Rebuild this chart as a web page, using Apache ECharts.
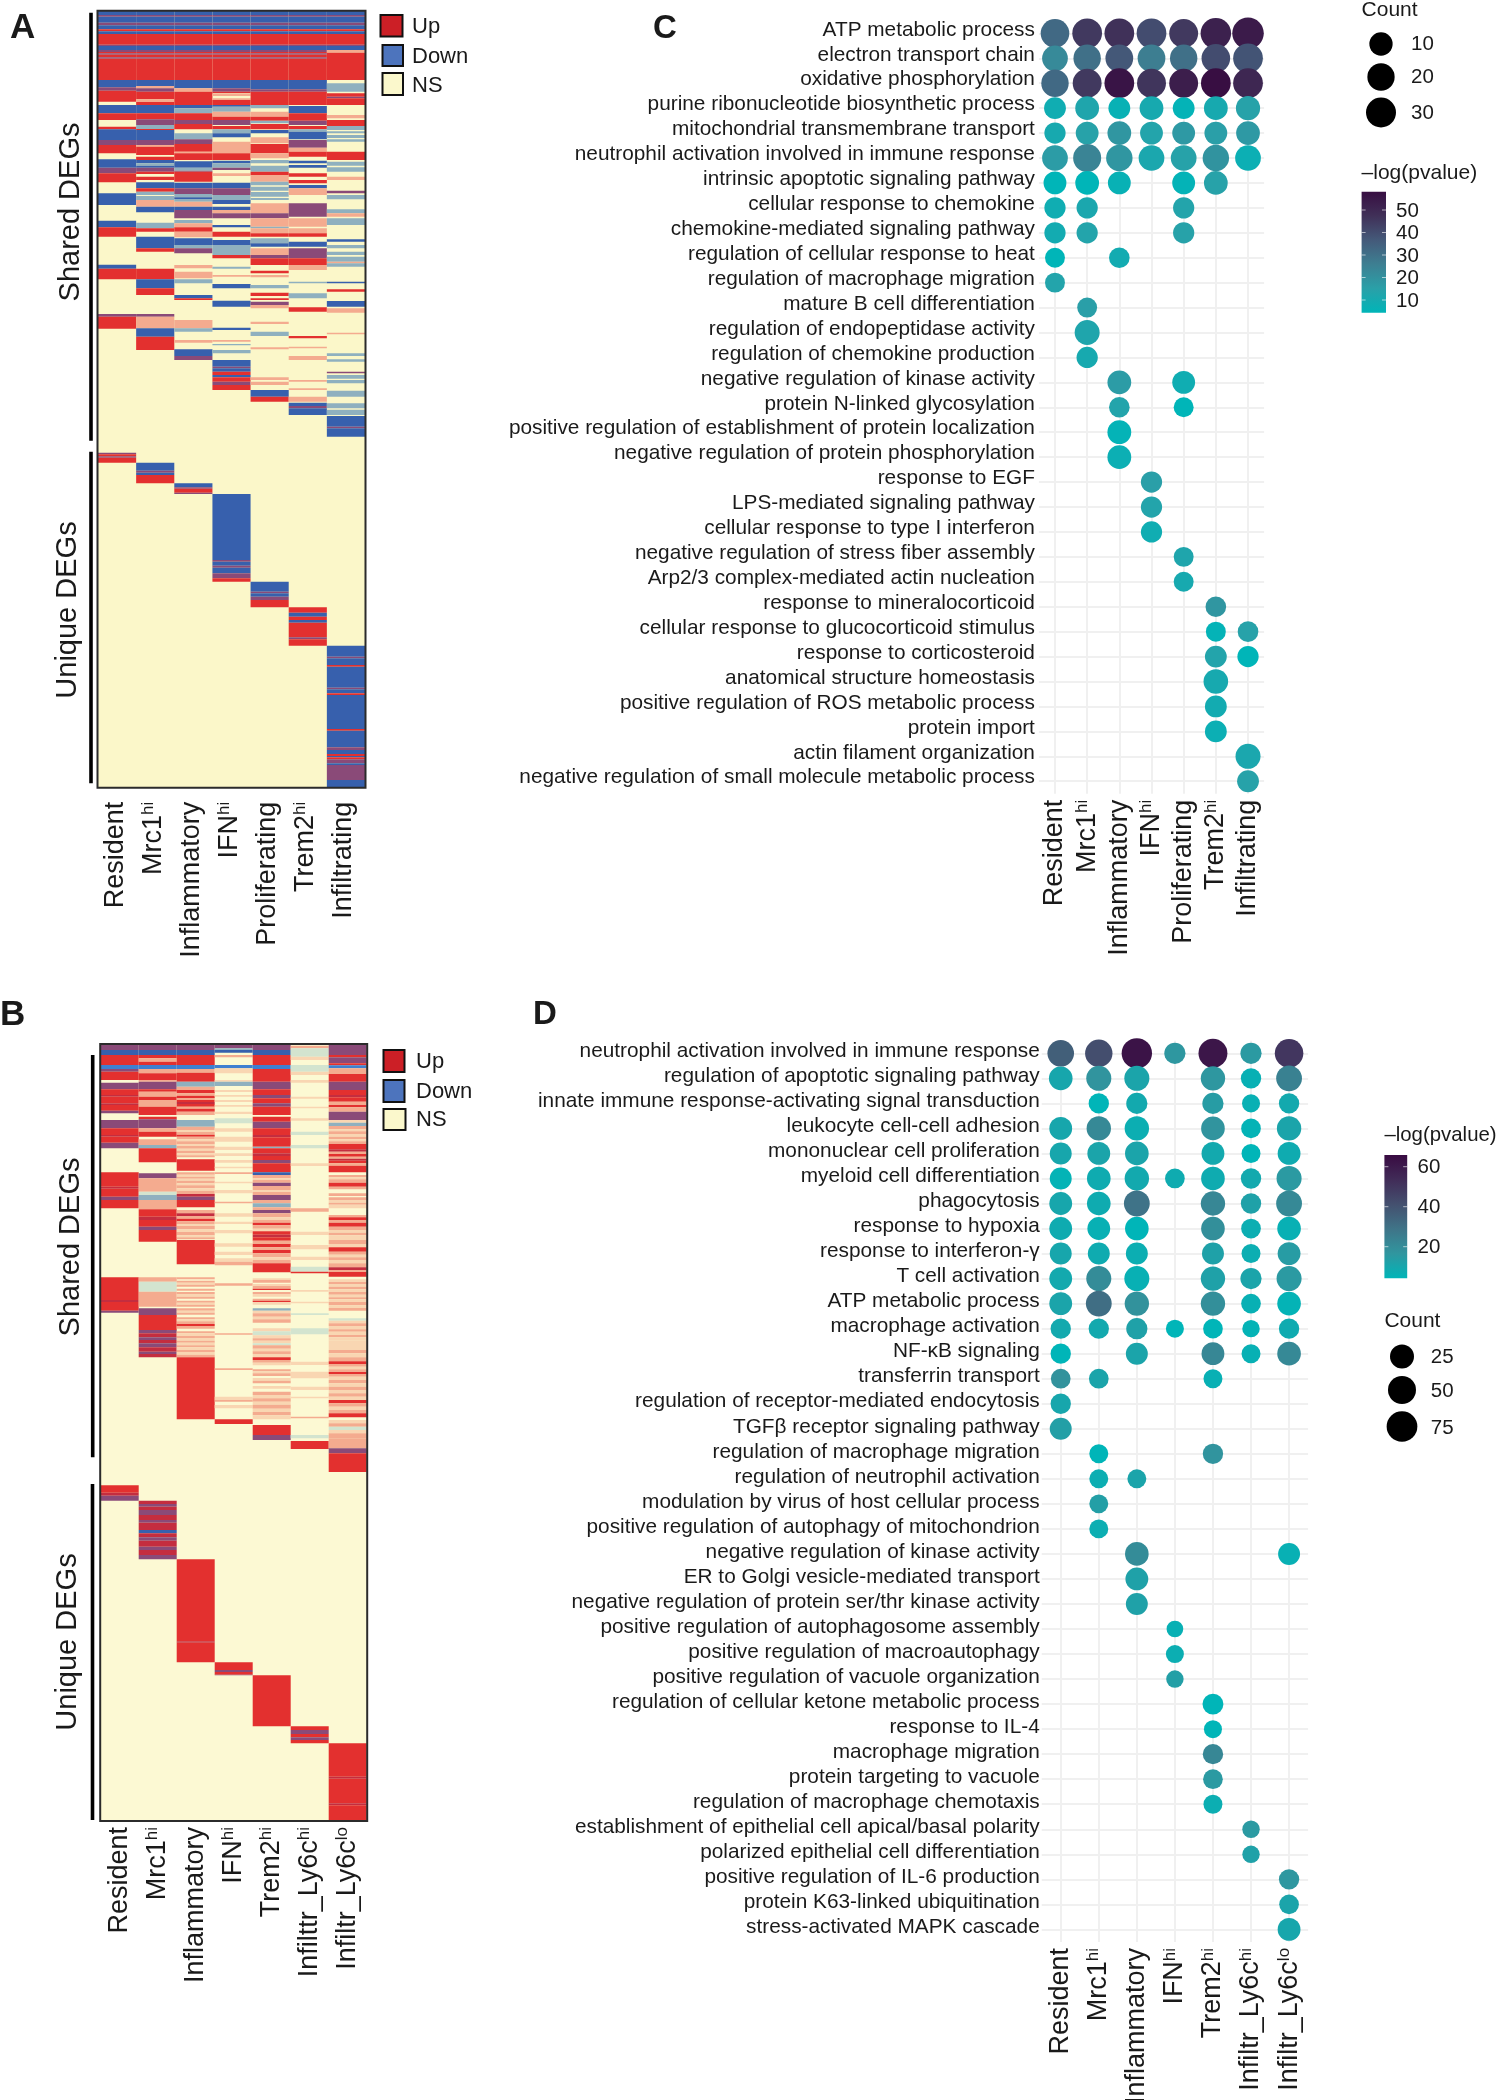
<!DOCTYPE html>
<html><head><meta charset="utf-8">
<style>html,body{margin:0;padding:0;background:#fff}#c{width:1496px;height:2100px}</style>
<script src="https://cdn.jsdelivr.net/npm/echarts@6/dist/echarts.min.js"></script>
</head><body><div id="c"></div>
<script>
const FONT = '"Liberation Sans", Arial, sans-serif';

/* ---------- shared x categories ---------- */
const clustersAC = ['Resident','Mrc1^hi','Inflammatory','IFN^hi','Proliferating','Trem2^hi','Infiltrating'];
const clustersB  = ['Resident','Mrc1^hi','Inflammatory','IFN^hi','Trem2^hi','Infilttr_Ly6c^hi','Infiltr_Ly6c^lo'];
const clustersD  = ['Resident','Mrc1^hi','Inflammatory','IFN^hi','Trem2^hi','Infiltr_Ly6c^hi','Infiltr_Ly6c^lo'];

/* ---------- heatmap states: U up, D down, N not significant, others = weaker or mixed stripes ---------- */
const stateColor = {U:'#e3302f',D:'#3760ad',u:'#f4ab8f',d:'#8fb0bf',m:'#8a4a78',r:'#c42d3f',p:'#f9d6b2',g:'#d3e4cf',B:'#3f7fd0'};

/* Gene rows per column as run lists: state + last row of the run */
const rowRangeA = [32, 2363];
const topA = 'D45 m50 D68 m76 D88 U94 D102 U134 m138 D150 m156 U160 m164 U172 m176 U240 ';
const heatA = [
 topA+'D262 m272 U305 N315 D340 U360 N380 U388 D420 m435 U460 N478 D503 m520 U547 N580 D615 N662 D682 U710 N794 D806 U838 N942 m950 U986 N1358 m1363 U1369 m1373 U1388',
 topA+'D258 u265 m275 U298 u306 U315 D340 U358 m375 d387 U390 D420 m435 u440 U465 N470 U480 D490 d497 D503 m515 U522 N530 U540 N547 D565 U575 d585 N588 d600 u620 D637 N668 d685 U695 N710 D745 U755 N806 U838 D865 U885 N942 m950 u985 D1010 U1050 N1388 D1412 m1418 D1425 U1450',
 topA+'D265 u275 U315 D325 d340 U360 m372 U388 N400 d418 m432 U455 u460 U480 N484 D503 d512 m515 U545 N548 D565 m582 d592 D597 d605 u620 D630 m655 N660 d670 u682 U695 u712 N715 D735 d745 m760 N795 u805 N815 u835 N838 d850 N885 D895 U900 N960 u985 d995 N1020 u1028 N1048 D1068 m1080 N1450 D1462 m1466 U1478 m1482',
 topA+'D265 m275 U280 N282 u288 N295 u300 U315 D320 d335 u350 U360 m375 N378 U388 d400 D412 N425 u460 U480 N482 D490 d503 m510 N520 u528 N548 D565 m585 d600 D612 N620 D630 u640 m655 N675 D682 N695 U710 N720 D735 d765 U775 N800 d806 N825 u830 N852 D865 N902 D920 N983 D990 N1020 u1025 N1032 d1036 N1050 d1060 N1080 D1100 m1105 D1115 U1125 D1132 U1145 m1155 U1170 N1482 D1680 m1685 D1697 m1703 D1720 m1735 U1745',
 topA+'D268 m275 U315 d325 N335 u350 U362 d370 N372 U388 N390 D400 N412 u430 N432 U460 u475 N480 d490 N497 d515 U525 u545 d556 N560 d572 N576 d590 N594 d600 N610 u640 m655 u680 d685 u700 U710 N715 d730 D740 N745 u765 m775 U795 N812 U820 N825 u832 N855 d865 N878 U888 N895 U900 N905 m915 u925 N965 u972 N995 d1008 N1042 u1048 N1132 u1140 N1145 u1155 N1170 D1190 U1205 N1745 D1775 m1780 D1790 m1800 U1822',
 topA+'D268 m275 U315 N318 D340 U362 m375 N378 U388 d395 D418 N420 m443 u455 U470 N482 D490 N495 D503 N520 U530 N540 U550 N555 D565 u585 N610 m650 N655 u680 N685 u700 U710 N725 D740 N745 m775 U795 u810 N845 d850 N880 d895 N922 U935 N1008 U1015 N1040 u1045 N1068 u1080 N1140 u1145 N1165 u1170 N1190 u1205 N1208 D1218 m1225 D1245 N1822 U1838 D1850 U1860 D1868 U1912 m1918 U1937',
 'D45 m50 D68 m76 D88 U94 D102 U134 m138 D150 u158 U240 N250 d275 N280 U290 m295 U315 N345 u355 N360 U378 d390 N394 d400 N405 d414 N418 d425 N455 U480 N485 d497 N502 d515 N530 u540 N572 m580 N585 d598 N628 d640 u650 N655 d675 N718 D725 N735 d745 N755 d765 N770 d785 u790 d800 N845 D850 N868 U875 N903 D920 N925 u938 N998 u1003 N1060 d1068 N1078 d1085 N1115 m1120 N1125 d1136 N1140 d1150 N1172 d1190 N1210 d1225 N1229 d1245 N1248 D1280 m1285 D1310 N1937 D1970 m1975 D1995 U2000 D2063 m2068 D2080 U2085 D2187 U2192 D2242 m2250 D2262 U2268 D2272 U2278 m2290 D2295 m2340 D2363'
];

const rowRangeB = [132, 2463];
const heatB = [
 'm150 D165 U195 B207 m215 U240 N248 m268 U285 r290 U310 r315 U332 m340 N360 m385 U405 r410 U428 m445 N517 U560 r566 U590 m600 U625 N832 U900 r906 U932 m938 N1456 U1478 r1487 m1502',
 'm150 D165 U175 u185 U195 B207 u220 U240 u245 m268 U275 u290 U300 u320 U345 N350 U358 m385 u395 U410 N418 u435 d445 U487 N520 m535 u575 g585 d600 u628 U650 r660 U680 m690 U725 N832 u845 g875 u920 N925 m945 U990 m1000 r1012 m1020 r1030 m1042 r1055 m1062 r1072 N1502 r1512 m1520 r1530 m1545 r1560 m1568 r1590 D1600 r1612 m1622 r1640 m1650 r1665 m1678',
 'm150 D165 U195 B207 u218 U245 d260 u270 U280 u287 U294 u300 U306 r312 U320 u326 U335 u345 N360 d380 u390 p396 u404 U410 u418 p424 u432 p438 u446 p452 u460 p466 u472 N478 U512 N517 u524 p530 u536 p542 u550 p556 u565 p572 u582 r590 m600 U622 N630 u640 r648 u656 U664 u672 p678 u688 p696 u706 p712 u718 N720 U793 N832 u838 N842 u848 p854 u860 N866 u872 N876 u882 p890 u896 N902 u908 p914 u920 N925 u932 p938 u944 N952 u958 p964 u972 U978 u986 N994 u1000 p1008 u1014 p1022 u1028 p1036 u1042 p1050 u1056 p1064 u1072 U1258 N1678 U1924 r1928 U1987',
 'm145 d150 D158 N165 u172 N195 B205 p220 N240 p245 d258 N270 p276 N285 p290 N300 p306 N315 p320 N335 p342 N355 g370 N385 p395 N410 p425 N440 p450 N460 p468 N480 p488 N500 p505 N517 u522 N545 p550 N570 p580 N605 u610 N640 p650 N665 p672 N690 p700 N730 p740 N755 p765 N775 p785 u796 N850 u857 N1000 u1004 N1105 u1110 N1190 p1200 u1205 N1215 p1225 N1258 U1272 N1987 U2010 m2016 U2024 m2026',
 'm150 D165 U195 B207 U245 m268 U285 m295 U310 m320 U345 N350 U365 m385 U405 r412 U440 d445 U460 r468 U480 m490 U517 D525 u535 p540 u548 m558 u570 p576 u585 m600 u610 d622 u630 m640 u652 p660 u668 U676 u686 p694 U704 r712 U722 u732 U742 u750 U760 u772 p780 u790 U817 N835 p840 u848 N852 p858 u866 U870 N876 u882 p890 N896 u902 U906 p914 N925 d932 p940 u950 p958 u968 N985 p994 g1006 p1015 u1022 p1030 g1036 u1046 p1054 u1062 p1072 U1080 u1088 p1096 N1108 u1114 p1120 u1128 N1134 p1142 u1150 N1158 p1166 N1175 u1185 p1195 u1205 p1214 u1226 p1236 u1246 p1258 N1275 U1305 m1320 N2026 U2179',
 'N137 u145 g170 p180 N195 g215 p225 N240 p248 N290 p296 N320 p325 N355 p362 N395 g405 N435 g445 N490 p498 N625 u635 N695 p705 N735 p748 N770 p780 N800 g815 U820 N870 p875 N905 p910 N940 g945 N985 g1003 N1085 p1095 N1115 p1135 N1160 p1170 N1190 p1195 N1250 u1255 N1305 g1315 N1323 U1347 N2179 U2190 m2202 U2212 m2220 U2230',
 'm165 U172 m190 U196 B205 u222 U245 m270 U285 r292 U305 u315 U322 u335 m360 p368 d378 u388 p394 u402 p410 u418 p424 u432 U448 r455 u462 U470 u476 r482 U490 u497 U517 N525 u532 p538 u548 U560 u568 N580 u588 N592 u600 p608 u614 p625 N645 u652 U660 u668 U680 u690 p698 u706 p720 u732 p742 U755 u764 p772 u780 p790 u802 r810 u816 U830 N838 p846 u852 p860 u868 p876 u884 p892 u898 p906 u916 p924 u932 N955 g962 p970 u978 p988 u995 p1005 u1012 p1022 p1050 u1060 p1072 u1084 U1092 u1100 p1108 u1116 U1122 u1130 p1140 u1150 p1160 u1170 p1180 u1190 p1200 U1210 u1220 p1230 u1240 U1252 N1260 p1270 u1280 g1290 p1300 u1315 u1345 m1360 U1416 N2230 U2330 r2336 U2410 r2416 U2463'
];

/* ---------- panel C ---------- */
const termsC = ['ATP metabolic process','electron transport chain','oxidative phosphorylation','purine ribonucleotide biosynthetic process','mitochondrial transmembrane transport','neutrophil activation involved in immune response','intrinsic apoptotic signaling pathway','cellular response to chemokine','chemokine-mediated signaling pathway','regulation of cellular response to heat','regulation of macrophage migration','mature B cell differentiation','regulation of endopeptidase activity','regulation of chemokine production','negative regulation of kinase activity','protein N-linked glycosylation','positive regulation of establishment of protein localization','negative regulation of protein phosphorylation','response to EGF','LPS-mediated signaling pathway','cellular response to type I interferon','negative regulation of stress fiber assembly','Arp2/3 complex-mediated actin nucleation','response to mineralocorticoid','cellular response to glucocorticoid stimulus','response to corticosteroid','anatomical structure homeostasis','positive regulation of ROS metabolic process','protein import','actin filament organization','negative regulation of small molecule metabolic process'];
const _ = null;
const countC = [
[25,29,29,29,26,32,36],[16,21,22,22,21,25,29],[21,26,29,26,26,29,29],[7,11,7,11,7,11,12],[6,9,11,9,9,9,11],[16,23,18,16,16,18,16],
[9,11,9,_,9,11,_],[6,6,_,_,6,_,_],[6,6,_,_,6,_,_],[4,_,5,_,_,_,_],[4,_,_,_,_,_,_],[_,4,_,_,_,_,_],[_,14,_,_,_,_,_],[_,6,_,_,_,_,_],
[_,_,11,_,9,_,_],[_,_,5,_,4,_,_],[_,_,11,_,_,_,_],[_,_,11,_,_,_,_],[_,_,_,6,_,_,_],[_,_,_,6,_,_,_],[_,_,_,6,_,_,_],
[_,_,_,_,4,_,_],[_,_,_,_,4,_,_],[_,_,_,_,_,5,_],[_,_,_,_,_,4,5],[_,_,_,_,_,7,6],[_,_,_,_,_,13,_],[_,_,_,_,_,7,_],[_,_,_,_,_,7,_],[_,_,_,_,_,_,14],[_,_,_,_,_,_,7]];
const logpC = [
[32,45,47,40,45,52,54],[22,30,37,26,30,40,38],[32,45,56,46,53,58,50],[8,12,6,10,5,10,14],[10,14,18,13,17,15,17],[16,24,18,11,14,19,7],
[4,4,6,_,5,14,_],[8,11,_,_,13,_,_],[9,13,_,_,14,_,_],[4,_,9,_,_,_,_],[13,_,_,_,_,_,_],[_,15,_,_,_,_,_],[_,12,_,_,_,_,_],[_,10,_,_,_,_,_],
[_,_,16,_,8,_,_],[_,_,13,_,4,_,_],[_,_,5,_,_,_,_],[_,_,7,_,_,_,_],[_,_,_,15,_,_,_],[_,_,_,13,_,_,_],[_,_,_,8,_,_,_],
[_,_,_,_,12,_,_],[_,_,_,_,10,_,_],[_,_,_,_,_,18,_],[_,_,_,_,_,5,14],[_,_,_,_,_,13,4],[_,_,_,_,_,10,_],[_,_,_,_,_,9,_],[_,_,_,_,_,7,_],[_,_,_,_,_,_,11],[_,_,_,_,_,_,14]];
const countTicksC = [10,20,30];
const logpTicksC = [50,40,30,20,10];

/* ---------- panel D ---------- */
const termsD = ['neutrophil activation involved in immune response','regulation of apoptotic signaling pathway','innate immune response-activating signal transduction','leukocyte cell-cell adhesion','mononuclear cell proliferation','myeloid cell differentiation','phagocytosis','response to hypoxia','response to interferon-γ','T cell activation','ATP metabolic process','macrophage activation','NF-κB signaling','transferrin transport','regulation of receptor-mediated endocytosis','TGFβ receptor signaling pathway','regulation of macrophage migration','regulation of neutrophil activation','modulation by virus of host cellular process','positive regulation of autophagy of mitochondrion','negative regulation of kinase activity','ER to Golgi vesicle-mediated transport','negative regulation of protein ser/thr kinase activity','positive regulation of autophagosome assembly','positive regulation of macroautophagy','positive regulation of vacuole organization','regulation of cellular ketone metabolic process','response to IL-4','macrophage migration','protein targeting to vacuole','regulation of macrophage chemotaxis','establishment of epithelial cell apical/basal polarity','polarized epithelial cell differentiation','positive regulation of IL-6 production','protein K63-linked ubiquitination','stress-activated MAPK cascade'];
const countD = [
[41,47,72,12,59,12,56],[23,31,31,_,27,9,36],[_,9,12,_,12,3,9],[19,27,27,_,23,7,27],[15,19,23,_,19,5,19],[15,23,27,7,23,9,31],[19,23,36,_,27,9,36],[19,19,23,_,23,7,23],[15,15,15,_,15,5,19],[19,31,31,_,27,12,31],[19,36,27,_,27,7,23],[9,9,12,3,7,2,9],[9,_,15,_,19,5,23],
[7,7,_,_,5,_,_],[9,_,_,_,_,_,_],[15,_,_,_,_,_,_],[_,5,_,_,9,_,_],[_,5,5,_,_,_,_],[_,5,_,_,_,_,_],[_,5,_,_,_,_,_],[_,_,23,_,_,_,15],[_,_,19,_,_,_,_],[_,_,15,_,_,_,_],
[_,_,_,1,_,_,_],[_,_,_,3,_,_,_],[_,_,_,2,_,_,_],[_,_,_,_,11,_,_],[_,_,_,_,3,_,_],[_,_,_,_,9,_,_],[_,_,_,_,7,_,_],[_,_,_,_,5,_,_],[_,_,_,_,_,2,_],[_,_,_,_,_,2,_],[_,_,_,_,_,_,9],[_,_,_,_,_,_,7],[_,_,_,_,_,_,19]];
const logpD = [
[36,42,63,16,62,15,50],[10,17,11,_,16,6,24],[_,4,9,_,14,6,9],[10,21,7,_,17,5,11],[10,11,11,_,9,4,8],[5,8,9,8,8,9,15],[10,8,29,_,22,12,21],[8,6,4,_,19,7,6],[10,8,7,_,12,7,14],[9,20,6,_,12,11,15],[11,31,18,_,19,6,5],[9,9,12,4,4,5,8],[4,_,11,_,22,6,21],
[18,11,_,_,6,_,_],[10,_,_,_,_,_,_],[13,_,_,_,_,_,_],[_,4,_,_,17,_,_],[_,7,11,_,_,_,_],[_,13,_,_,_,_,_],[_,7,_,_,_,_,_],[_,_,20,_,_,_,6],[_,_,12,_,_,_,_],[_,_,12,_,_,_,_],
[_,_,_,6,_,_,_],[_,_,_,7,_,_,_],[_,_,_,13,_,_,_],[_,_,_,_,4,_,_],[_,_,_,_,4,_,_],[_,_,_,_,22,_,_],[_,_,_,_,15,_,_],[_,_,_,_,7,_,_],[_,_,_,_,_,15,_],[_,_,_,_,_,12,_],[_,_,_,_,_,_,16],[_,_,_,_,_,_,11],[_,_,_,_,_,_,10]];
const countTicksD = [25,50,75];
const logpTicksD = [60,40,20];

const rampC = ['#00b5b8','#2aa0a8','#3d7f92','#445a7a','#403058','#380e42'];
const rampD = ['#00b5b8','#30969f','#3f7488','#44506f','#412c58','#390b42'];

/* ---------- builders ---------- */
const codeList=Object.keys(stateColor);
function heatData(list,first){
  const data=[];
  list.forEach((str,col)=>{
    let s=first;
    str.split(' ').forEach(tok=>{
      const code=tok[0], e=+tok.slice(1);
      if(code!=='N') data.push([col,s,e,codeList.indexOf(code)]);
      s=e;
    });
  });
  return data;
}
function dotData(counts,logp){
  const d=[];
  counts.forEach((row,r)=>row.forEach((c,x)=>{ if(c!==null) d.push([x,r,c,logp[r][x]]); }));
  return d;
}
function renderRun(params,api){
  const a=api.coord([api.value(0),api.value(1)]), b=api.coord([api.value(0),api.value(2)]);
  const w=api.size([1,0])[0];
  return {type:'rect',shape:{x:a[0]-w/2,y:a[1],width:w,height:b[1]-a[1]},style:{fill:stateColor[codeList[api.value(3)]]}};
}
function clusterLabel(v){
  const p=v.split('^');
  return p[1]?`{b|${p[0]}}{s|${p[1]}}`:`{b|${v}}`;
}
const clusterRich=pad=>({b:{fontFamily:FONT,fontSize:27,color:'#1a1a1a',padding:[0,0,pad,0]},s:{fontFamily:FONT,fontSize:17,color:'#1a1a1a',verticalAlign:'top',padding:[0,0,10+pad,0]}});
function xAxisFor(gridIndex,data,margin,dot,pad){
  return {type:'category',gridIndex,data,position:'bottom',
    axisLine:{show:false},axisTick:{show:false},
    splitLine:dot?{show:true,alignWithLabel:true,interval:0,lineStyle:{color:'#f0f0f0',width:2}}:{show:false},
    axisLabel:{interval:0,rotate:90,margin,align:'right',verticalAlign:'middle',formatter:clusterLabel,rich:clusterRich(pad)}};
}
function yTermAxis(gridIndex,data,lift,margin){
  return {type:'category',gridIndex,data,inverse:true,
    axisLine:{show:false},axisTick:{show:false},
    splitLine:{show:true,alignWithLabel:true,interval:0,lineStyle:{color:'#f0f0f0',width:2}},
    axisLabel:{interval:0,margin,fontFamily:FONT,fontSize:20.8,color:'#1a1a1a',verticalAlign:'bottom',lineHeight:lift*2}};
}
function yRowAxis(gridIndex,range){
  return {type:'value',gridIndex,min:range[0],max:range[1],inverse:true,show:false,splitLine:{show:false}};
}

/* ---------- layout ---------- */
const gA={left:98,top:10.7,width:267,height:777,outerBoundsMode:'none'};
const gB={left:100.7,top:1044,width:266,height:777,outerBoundsMode:'none'};
const gC={left:1038.9,top:20.9,width:225.2,height:772.8,outerBoundsMode:'none'};
const gD={left:1041.7,top:1040.8,width:266.4,height:901.1,outerBoundsMode:'none'};

/* ---------- annotations ---------- */
const T=(text,x,y,size,extra={})=>({type:'text',z:100,x,y,rotation:extra.rot||0,style:{text,fontFamily:FONT,fontSize:size,fontWeight:extra.weight||'normal',fill:'#1a1a1a',textAlign:extra.align||'left',textVerticalAlign:'middle',verticalAlign:'middle'}});
const V=(x,y1,y2)=>({type:'rect',z:100,shape:{x:x-1.8,y:y1,width:3.6,height:y2-y1},style:{fill:'#000'}});
const box=g=>({type:'rect',z:100,shape:{x:g.left-0.5,y:g.top,width:g.width+1,height:g.height},style:{fill:'none',stroke:'#2b2b2b',lineWidth:2}});
const swatch=(x,y,w,h,fill)=>({type:'rect',z:100,shape:{x,y,width:w,height:h},style:{fill,stroke:'#111',lineWidth:2}});
const circle=(x,y,d)=>({type:'circle',z:100,shape:{cx:x,cy:y,r:d/2},style:{fill:'#000'}});

function colorBar(x,y,w,h,ramp,tickVals,yOf,labelX){
  const stops=ramp.map((c,i)=>({offset:i/(ramp.length-1),color:c}));
  const els=[{type:'rect',z:100,shape:{x,y,width:w,height:h},style:{fill:new echarts.graphic.LinearGradient(0,1,0,0,stops)}}];
  tickVals.forEach(v=>{
    const ty=yOf(v);
    els.push({type:'line',z:101,shape:{x1:x,y1:ty,x2:x+4,y2:ty},style:{stroke:'rgba(255,255,255,.6)',lineWidth:1}});
    els.push({type:'line',z:101,shape:{x1:x+w-4,y1:ty,x2:x+w,y2:ty},style:{stroke:'rgba(255,255,255,.6)',lineWidth:1}});
    els.push(T(String(v),labelX,ty+1,20.5));
  });
  return els;
}

const graphicEls=[
  T('A',10,28,35,{weight:'bold'}),T('B',0,1015,35,{weight:'bold'}),T('C',653,29,33,{weight:'bold'}),T('D',533,1015,33,{weight:'bold'}),
  box(gA),box(gB),
  V(91,12.7,440.7),V(91,451.7,783.3),V(92.7,1055,1457.3),V(92.5,1484,1820),
  T('Shared DEGs',71,212,29,{rot:Math.PI/2,align:'center'}),T('Unique DEGs',68,610,29,{rot:Math.PI/2,align:'center'}),
  T('Shared DEGs',71,1247,29,{rot:Math.PI/2,align:'center'}),T('Unique DEGs',68,1642,29,{rot:Math.PI/2,align:'center'}),
  swatch(380.5,15,22,21.5,'#cc1f26'),swatch(382.5,45,20.5,21,'#4d74bd'),swatch(382.5,73,20.5,22,'#fbf8cc'),
  T('Up',412,26.5,22),T('Down',412,56.5,22),T('NS',412,85.5,22),
  swatch(383.5,1050,21,22,'#cc1f26'),swatch(383.5,1080,21,22,'#4d74bd'),swatch(383.5,1109,22,21,'#fbf8cc'),
  T('Up',416,1062,22),T('Down',416,1092,22),T('NS',416,1120,22),
  T('Count',1361.6,10,21),T('–log(pvalue)',1361.6,173,21),
  circle(1381,44,23.3),circle(1381,77,27.3),circle(1381,112.5,30),
  T(String(countTicksC[0]),1411,44.5,20.5),T(String(countTicksC[1]),1411,77,20.5),T(String(countTicksC[2]),1411,113,20.5),
  ...colorBar(1361.6,191.7,24.4,121,rampC,logpTicksC,v=>300-(v-10)*2.25,1396),
  T('–log(pvalue)',1384.4,1135,20.4),T('Count',1384.4,1321,21),
  circle(1402,1356.5,24),circle(1402,1390,28),circle(1402,1426.5,30.7),
  T(String(countTicksD[0]),1430.8,1357,20.5),T(String(countTicksD[1]),1430.8,1391,20.5),T(String(countTicksD[2]),1430.8,1428,20.5),
  ...colorBar(1384.4,1155,22.8,123.3,rampD,logpTicksD,v=>1246.7-(v-20)*2,1417.5)
];

/* ---------- chart ---------- */
const chart=echarts.init(document.getElementById('c'),null,{renderer:'canvas',width:1496,height:2100});
chart.setOption({
  animation:false,
  backgroundColor:'#fff',
  textStyle:{fontFamily:FONT},
  grid:[
    {...gA,show:true,backgroundColor:'#fbf7c9',borderWidth:0},
    {...gB,show:true,backgroundColor:'#fcf9d3',borderWidth:0},
    {...gC,show:false},
    {...gD,show:false}
  ],
  xAxis:[
    xAxisFor(0,clustersAC,14,false,4),
    xAxisFor(1,clustersB,6,false,0),
    xAxisFor(2,clustersAC,6,true,0),
    xAxisFor(3,clustersD,6,true,0)
  ],
  yAxis:[yRowAxis(0,rowRangeA),yRowAxis(1,rowRangeB),yTermAxis(2,termsC,3.5,4),yTermAxis(3,termsD,2,2)],
  visualMap:[
    {show:false,type:'continuous',seriesIndex:2,dimension:3,min:4,max:58,inRange:{color:rampC}},
    {show:false,type:'continuous',seriesIndex:3,dimension:3,min:4,max:66,inRange:{color:rampD}}
  ],
  series:[
    {type:'custom',name:'DEGs A',xAxisIndex:0,yAxisIndex:0,coordinateSystem:'cartesian2d',encode:{x:0,y:[1,2]},renderItem:renderRun,data:heatData(heatA,rowRangeA[0]),silent:true},
    {type:'custom',name:'DEGs B',xAxisIndex:1,yAxisIndex:1,coordinateSystem:'cartesian2d',encode:{x:0,y:[1,2]},renderItem:renderRun,data:heatData(heatB,rowRangeB[0]),silent:true},
    {type:'scatter',name:'GO C',xAxisIndex:2,yAxisIndex:2,data:dotData(countC,logpC),symbolSize:v=>14.15+2.894*Math.sqrt(v[2]),itemStyle:{opacity:1},silent:true},
    {type:'scatter',name:'GO D',xAxisIndex:3,yAxisIndex:3,data:dotData(countD,logpD),symbolSize:v=>14.85+1.83*Math.sqrt(v[2]),itemStyle:{opacity:1},silent:true}
  ],
  graphic:{elements:graphicEls}
});
</script></body></html>
